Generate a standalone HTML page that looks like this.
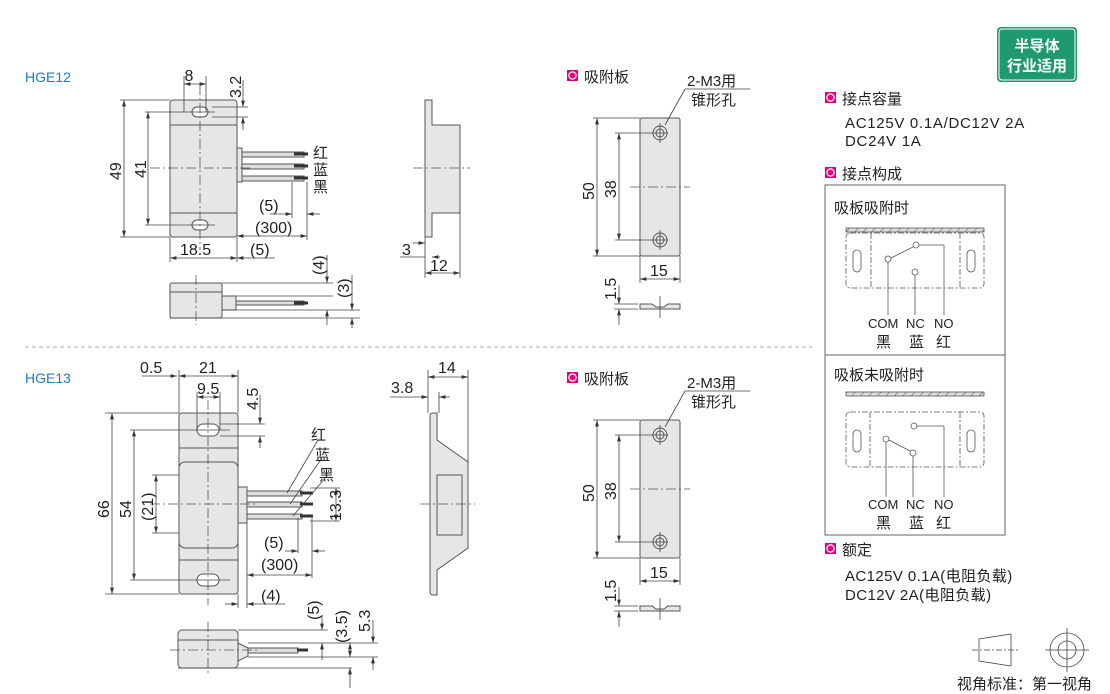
<!DOCTYPE html>
<html><head><meta charset="utf-8"><style>
html,body{margin:0;padding:0;background:#fff;}
svg{display:block;font-family:"Liberation Sans","Noto Sans CJK SC",sans-serif;}
</style></head><body>
<svg width="1110" height="694" viewBox="0 0 1110 694" xmlns="http://www.w3.org/2000/svg">
<defs>
<marker id="a" viewBox="0 0 10 6" refX="10" refY="3" markerWidth="8" markerHeight="5" orient="auto-start-reverse"><path d="M0,0L10,3L0,6z" fill="#333"/></marker>
<pattern id="h" width="6" height="6" patternUnits="userSpaceOnUse" patternTransform="rotate(45)"><rect width="6" height="6" fill="#ddd"/><line x1="0" y1="0" x2="0" y2="6" stroke="#555" stroke-width="1"/></pattern>
</defs>
<g font-size="14" fill="#222">
<text x="25" y="82" fill="#1a7fc1" font-size="14">HGE12</text>
<text x="25" y="383" fill="#1a7fc1" font-size="14">HGE13</text>
<line x1="25" y1="347" x2="812" y2="347" stroke="#aaa" stroke-dasharray="4,3"/>

<g stroke="#555" stroke-width="1" fill="#e6e6e6">
<rect x="170" y="100" width="67" height="137" rx="3"/>
<line x1="170" y1="125" x2="237" y2="125"/><line x1="170" y1="213" x2="237" y2="213"/>
<rect x="192" y="107" width="16" height="10" rx="5" fill="#fff"/>
<rect x="192" y="220" width="16" height="10" rx="5" fill="#fff"/>
<rect x="237" y="148" width="5" height="34"/>
<g fill="#ddd"><rect x="242" y="152" width="62" height="5"/><rect x="242" y="164" width="62" height="5"/><rect x="242" y="176" width="62" height="5"/></g>
<g stroke="#333" stroke-width="3"><line x1="294" y1="154" x2="308" y2="154"/><line x1="294" y1="166" x2="308" y2="166"/><line x1="294" y1="178" x2="308" y2="178"/></g>
<path d="M425,100H432V125H460V213H432V237H425Z"/>
<rect x="170" y="283" width="52" height="35" rx="2"/><line x1="170" y1="292" x2="222" y2="292"/>
<rect x="222" y="296" width="14" height="14"/>
<rect x="236" y="301" width="68" height="4" fill="#ddd"/>
<line x1="294" y1="303" x2="308" y2="303" stroke="#333" stroke-width="3"/>

<rect x="179" y="413" width="59" height="181" rx="3"/>
<line x1="179" y1="448" x2="238" y2="448"/><line x1="179" y1="560" x2="238" y2="560"/>
<rect x="179" y="462" width="59" height="86" rx="6"/>
<rect x="197" y="424" width="22" height="12" rx="6" fill="#fff"/>
<rect x="197" y="574" width="22" height="12" rx="6" fill="#fff"/>
<rect x="238" y="487" width="9" height="36"/>
<g fill="#ddd"><rect x="247" y="491" width="55" height="5"/><rect x="247" y="502" width="55" height="5"/><rect x="247" y="514" width="55" height="5"/></g>
<g stroke="#333" stroke-width="3"><line x1="300" y1="493" x2="313" y2="493"/><line x1="300" y1="504" x2="313" y2="504"/><line x1="300" y1="516" x2="313" y2="516"/></g>
<path d="M430,416Q430,413 433,413H437V440L468,462V548L437,570V595H433Q430,595 430,592Z"/>
<rect x="437" y="475" width="25" height="60"/>
<rect x="178" y="630" width="60" height="38" rx="4"/><line x1="178" y1="640" x2="238" y2="640"/>
<path d="M238,643L248,648V656L238,661Z"/>
<rect x="248" y="648" width="50" height="5" fill="#ddd"/>
<line x1="297" y1="650" x2="308" y2="650" stroke="#333" stroke-width="3"/>

<rect x="640" y="118" width="40" height="138" rx="2"/>
<rect x="640" y="420" width="40" height="138" rx="2"/>
<g fill="none"><circle cx="660" cy="133" r="7"/><circle cx="660" cy="133" r="4"/><circle cx="660" cy="240" r="7"/><circle cx="660" cy="240" r="4"/>
<circle cx="660" cy="435" r="7"/><circle cx="660" cy="435" r="4"/><circle cx="660" cy="542" r="7"/><circle cx="660" cy="542" r="4"/></g>
<path d="M640,304H652L656,307H664L668,304H680V309H640Z"/>
<path d="M640,606H652L656,609H664L668,606H680V611H640Z"/>
</g>

<g stroke="#555" stroke-width="0.8" stroke-dasharray="10,3,2,3" fill="none">
<line x1="200" y1="85" x2="200" y2="250"/><line x1="150" y1="168" x2="250" y2="168"/>
<line x1="413" y1="168" x2="470" y2="168"/>
<line x1="196" y1="275" x2="196" y2="325"/>
<line x1="208" y1="400" x2="208" y2="605"/><line x1="150" y1="504" x2="255" y2="504"/>
<line x1="420" y1="504" x2="475" y2="504"/>
<line x1="170" y1="650" x2="260" y2="650"/><line x1="208" y1="622" x2="208" y2="675"/>
<line x1="630" y1="187" x2="690" y2="187"/><line x1="630" y1="489" x2="690" y2="489"/>
</g>

<g stroke="#444" stroke-width="0.8" fill="none">
<line x1="120" y1="100" x2="170" y2="100"/><line x1="120" y1="237" x2="170" y2="237"/>
<line x1="124" y1="100" x2="124" y2="237" marker-start="url(#a)" marker-end="url(#a)"/>
<line x1="145" y1="112" x2="215" y2="112"/><line x1="145" y1="225" x2="215" y2="225"/>
<line x1="148" y1="112" x2="148" y2="225" marker-start="url(#a)" marker-end="url(#a)"/>
<line x1="184" y1="76" x2="184" y2="112"/><line x1="206" y1="76" x2="206" y2="112"/>
<line x1="184" y1="84" x2="206" y2="84" marker-start="url(#a)" marker-end="url(#a)"/>
<line x1="212" y1="107" x2="248" y2="107"/><line x1="212" y1="117" x2="248" y2="117"/>
<line x1="243" y1="80" x2="243" y2="107" marker-end="url(#a)"/><line x1="243" y1="130" x2="243" y2="117" marker-end="url(#a)"/>
<line x1="170" y1="237" x2="170" y2="262"/><line x1="237" y1="237" x2="237" y2="262"/>
<line x1="170" y1="258" x2="237" y2="258" marker-start="url(#a)" marker-end="url(#a)"/>
<line x1="237" y1="258" x2="275" y2="258" marker-start="url(#a)"/>
<line x1="237" y1="236" x2="307" y2="236" marker-start="url(#a)" marker-end="url(#a)"/>
<line x1="307" y1="182" x2="307" y2="240"/><line x1="292" y1="182" x2="292" y2="218"/>
<line x1="270" y1="214" x2="292" y2="214" marker-end="url(#a)"/><line x1="320" y1="214" x2="307" y2="214" marker-end="url(#a)"/>
<line x1="413" y1="243" x2="425" y2="243" marker-end="url(#a)"/>
<line x1="400" y1="257" x2="425" y2="257"/>
<line x1="425" y1="237" x2="425" y2="278"/><line x1="460" y1="213" x2="460" y2="278"/>
<line x1="425" y1="273" x2="460" y2="273" marker-start="url(#a)" marker-end="url(#a)"/>
<line x1="440" y1="257" x2="432" y2="257" marker-end="url(#a)"/>
<line x1="222" y1="283" x2="333" y2="283"/><line x1="236" y1="296" x2="333" y2="296"/><line x1="222" y1="310" x2="360" y2="310"/><line x1="170" y1="318" x2="360" y2="318"/>
<line x1="327" y1="255" x2="327" y2="283" marker-end="url(#a)"/><line x1="327" y1="325" x2="327" y2="310" marker-end="url(#a)"/>
<line x1="352" y1="275" x2="352" y2="310" marker-end="url(#a)"/><line x1="352" y1="328" x2="352" y2="318" marker-end="url(#a)"/>
<line x1="105" y1="413" x2="179" y2="413"/><line x1="105" y1="594" x2="179" y2="594"/>
<line x1="112" y1="413" x2="112" y2="594" marker-start="url(#a)" marker-end="url(#a)"/>
<line x1="130" y1="430" x2="230" y2="430"/><line x1="130" y1="580" x2="230" y2="580"/>
<line x1="134" y1="430" x2="134" y2="580" marker-start="url(#a)" marker-end="url(#a)"/>
<line x1="152" y1="475" x2="179" y2="475"/><line x1="152" y1="533" x2="179" y2="533"/>
<line x1="156" y1="475" x2="156" y2="533" marker-start="url(#a)" marker-end="url(#a)"/>
<line x1="179" y1="370" x2="179" y2="413"/><line x1="238" y1="370" x2="238" y2="413"/>
<line x1="142" y1="376" x2="177" y2="376" marker-end="url(#a)"/>
<line x1="179" y1="376" x2="238" y2="376" marker-start="url(#a)" marker-end="url(#a)"/>
<line x1="197" y1="392" x2="197" y2="430"/><line x1="220" y1="392" x2="220" y2="430"/>
<line x1="197" y1="397" x2="220" y2="397" marker-start="url(#a)" marker-end="url(#a)"/>
<line x1="220" y1="424" x2="265" y2="424"/><line x1="220" y1="436" x2="265" y2="436"/>
<line x1="260" y1="395" x2="260" y2="424" marker-end="url(#a)"/><line x1="260" y1="448" x2="260" y2="436" marker-end="url(#a)"/>
<line x1="247" y1="523" x2="247" y2="608"/><line x1="238" y1="594" x2="238" y2="608"/>
<line x1="225" y1="604" x2="238" y2="604" marker-end="url(#a)"/><line x1="285" y1="604" x2="247" y2="604" marker-end="url(#a)"/>
<line x1="247" y1="575" x2="312" y2="575" marker-start="url(#a)" marker-end="url(#a)"/>
<line x1="312" y1="518" x2="312" y2="578"/><line x1="298" y1="518" x2="298" y2="553"/>
<line x1="285" y1="551" x2="298" y2="551" marker-end="url(#a)"/><line x1="325" y1="551" x2="312" y2="551" marker-end="url(#a)"/>
<line x1="310" y1="488" x2="340" y2="488"/><line x1="310" y1="521" x2="340" y2="521"/>
<line x1="336" y1="488" x2="336" y2="521" marker-start="url(#a)" marker-end="url(#a)"/>
<line x1="318" y1="440" x2="287" y2="493"/><line x1="322" y1="458" x2="290" y2="504"/><line x1="326" y1="477" x2="293" y2="516"/>
<line x1="428" y1="370" x2="428" y2="413"/><line x1="468" y1="370" x2="468" y2="462"/><line x1="439" y1="392" x2="439" y2="413"/>
<line x1="428" y1="377" x2="468" y2="377" marker-start="url(#a)" marker-end="url(#a)"/>
<line x1="390" y1="397" x2="428" y2="397" marker-end="url(#a)"/><line x1="450" y1="397" x2="439" y2="397" marker-end="url(#a)"/>
<line x1="238" y1="630" x2="328" y2="630"/><line x1="248" y1="643" x2="378" y2="643"/><line x1="248" y1="657" x2="378" y2="657"/><line x1="178" y1="668" x2="352" y2="668"/>
<line x1="322" y1="615" x2="322" y2="630" marker-end="url(#a)"/><line x1="322" y1="660" x2="322" y2="643" marker-end="url(#a)"/>
<line x1="350" y1="643" x2="350" y2="657" marker-start="url(#a)" marker-end="url(#a)"/><line x1="350" y1="668" x2="350" y2="688" marker-start="url(#a)"/>
<line x1="373" y1="620" x2="373" y2="643" marker-end="url(#a)"/><line x1="373" y1="670" x2="373" y2="657" marker-end="url(#a)"/>
<g id="pl">
<line x1="593" y1="118" x2="640" y2="118"/><line x1="593" y1="256" x2="640" y2="256"/>
<line x1="597" y1="118" x2="597" y2="256" marker-start="url(#a)" marker-end="url(#a)"/>
<line x1="615" y1="133" x2="668" y2="133"/><line x1="615" y1="240" x2="668" y2="240"/>
<line x1="619" y1="133" x2="619" y2="240" marker-start="url(#a)" marker-end="url(#a)"/>
<line x1="660" y1="123" x2="660" y2="143"/><line x1="660" y1="230" x2="660" y2="250"/>
<line x1="640" y1="256" x2="640" y2="283"/><line x1="680" y1="256" x2="680" y2="283"/>
<line x1="640" y1="279" x2="680" y2="279" marker-start="url(#a)" marker-end="url(#a)"/>
<line x1="614" y1="304" x2="638" y2="304"/><line x1="614" y1="309" x2="638" y2="309"/>
<line x1="619" y1="285" x2="619" y2="304" marker-end="url(#a)"/><line x1="619" y1="325" x2="619" y2="309" marker-end="url(#a)"/>
<line x1="660" y1="296" x2="660" y2="318"/>
<line x1="665" y1="125" x2="685" y2="89"/><line x1="685" y1="89" x2="750" y2="89"/>
</g>
<use href="#pl" y="302"/>
</g>

<g font-size="16">
<text x="189" y="81" text-anchor="middle">8</text>
<text transform="translate(241,98) rotate(-90)">3.2</text>
<text transform="translate(121,180) rotate(-90)">49</text>
<text transform="translate(146,178) rotate(-90)">41</text>
<text x="180" y="255">18.5</text>
<text x="250" y="255">(5)</text>
<text x="255" y="233">(300)</text>
<text x="259" y="211">(5)</text>
<text x="402" y="255">3</text>
<text x="430" y="271">12</text>
<text transform="translate(324,275) rotate(-90)">(4)</text>
<text transform="translate(349,298) rotate(-90)">(3)</text>
<text x="313" y="158" font-size="15">红</text><text x="313" y="175" font-size="15">蓝</text><text x="313" y="192" font-size="15">黑</text>
<text x="140" y="373">0.5</text>
<text x="199" y="373">21</text>
<text x="197" y="394">9.5</text>
<text transform="translate(258,410) rotate(-90)">4.5</text>
<text transform="translate(109,518) rotate(-90)">66</text>
<text transform="translate(131,518) rotate(-90)">54</text>
<text transform="translate(153,521) rotate(-90)">(21)</text>
<text x="311" y="440" font-size="15">红</text><text x="315" y="460" font-size="15">蓝</text><text x="319" y="480" font-size="15">黑</text>
<text transform="translate(341,521) rotate(-90)">13.3</text>
<text x="264" y="548">(5)</text>
<text x="261" y="570">(300)</text>
<text x="261" y="601">(4)</text>
<text x="391" y="393">3.8</text>
<text x="438" y="373">14</text>
<text transform="translate(319,620) rotate(-90)">(5)</text>
<text transform="translate(347,643) rotate(-90)">(3.5)</text>
<text transform="translate(370,632) rotate(-90)">5.3</text>
<g id="pt">
<rect x="567" y="70" width="11" height="11" fill="#e6007e"/><circle cx="572.5" cy="75.5" r="3.6" fill="none" stroke="#fff" stroke-width="1.2"/>
<text x="584" y="82" font-size="15">吸附板</text>
<text x="687" y="86" font-size="15">2-M3用</text>
<text x="691" y="105" font-size="15">锥形孔</text>
<text transform="translate(594,200) rotate(-90)">50</text>
<text transform="translate(616,198) rotate(-90)">38</text>
<text x="650" y="276">15</text>
<text transform="translate(616,300) rotate(-90)">1.5</text>
</g>
<use href="#pt" y="302"/>
</g>

<rect x="997" y="27" width="80" height="55" rx="4" fill="#1f9a6e"/>
<rect x="999" y="29" width="76" height="51" rx="3" fill="none" stroke="#fff" stroke-width="1"/>
<text x="1037" y="51" font-size="15" font-weight="bold" fill="#fff" text-anchor="middle">半导体</text>
<text x="1037" y="71" font-size="15" font-weight="bold" fill="#fff" text-anchor="middle">行业适用</text>
<g id="ic"><rect x="825" y="92" width="11" height="11" fill="#e6007e"/><circle cx="830.5" cy="97.5" r="3.6" fill="none" stroke="#fff" stroke-width="1.2"/></g>
<text x="842" y="104" font-size="15">接点容量</text>
<text x="845" y="128" font-size="15" letter-spacing="0.7">AC125V 0.1A/DC12V 2A</text>
<text x="845" y="146" font-size="15" letter-spacing="0.7">DC24V 1A</text>
<use href="#ic" y="75"/><text x="842" y="179" font-size="15">接点构成</text>
<rect x="825" y="185" width="180" height="350" fill="none" stroke="#666"/>
<line x1="825" y1="355" x2="1005" y2="355" stroke="#666"/>
<text x="834" y="213" font-size="15">吸板吸附时</text>
<text x="834" y="380" font-size="15">吸板未吸附时</text>
<g stroke="#555" stroke-width="0.8" fill="none">
<rect x="846" y="228" width="138" height="4" fill="url(#h)"/>
<rect x="846" y="392" width="138" height="4" fill="url(#h)"/>
<g stroke-dasharray="6,2,2,2">
<rect x="846" y="233" width="138" height="55" rx="4"/><line x1="871" y1="233" x2="871" y2="288"/><line x1="960" y1="233" x2="960" y2="288"/>
<rect x="846" y="412" width="138" height="55" rx="4"/><line x1="870" y1="412" x2="870" y2="467"/><line x1="960" y1="412" x2="960" y2="467"/>
</g>
<rect x="853" y="250" width="8" height="22" rx="4"/><rect x="967" y="250" width="8" height="22" rx="4"/>
<rect x="853" y="430" width="8" height="22" rx="4"/><rect x="967" y="430" width="8" height="22" rx="4"/>
<circle cx="888" cy="259" r="3" fill="#fff"/><circle cx="916" cy="245" r="3" fill="#fff"/><circle cx="915" cy="272" r="3" fill="#fff"/>
<line x1="891" y1="258" x2="913" y2="247"/><line x1="919" y1="245" x2="944" y2="245"/><line x1="944" y1="245" x2="944" y2="315"/>
<line x1="888" y1="262" x2="888" y2="315"/><line x1="915" y1="275" x2="915" y2="315"/>
<circle cx="886" cy="439" r="3" fill="#fff"/><circle cx="913" cy="453" r="3" fill="#fff"/><circle cx="914" cy="426" r="3" fill="#fff"/>
<line x1="889" y1="440" x2="910" y2="451"/><line x1="917" y1="426" x2="944" y2="426"/><line x1="944" y1="426" x2="944" y2="497"/>
<line x1="886" y1="442" x2="886" y2="497"/><line x1="913" y1="456" x2="913" y2="497"/>
</g>
<g font-size="13"><text x="868" y="328">COM</text><text x="906" y="328">NC</text><text x="934" y="328">NO</text>
<text x="868" y="509">COM</text><text x="906" y="509">NC</text><text x="934" y="509">NO</text></g>
<g font-size="15"><text x="876" y="347">黑</text><text x="909" y="347">蓝</text><text x="936" y="347">红</text>
<text x="876" y="528">黑</text><text x="909" y="528">蓝</text><text x="936" y="528">红</text></g>
<use href="#ic" y="451"/><text x="842" y="555" font-size="15">额定</text>
<text x="845" y="581" font-size="15" letter-spacing="0.4">AC125V  0.1A(电阻负载)</text>
<text x="845" y="600" font-size="15" letter-spacing="0.4">DC12V  2A(电阻负载)</text>
<g stroke="#444" stroke-width="0.8" fill="none">
<path d="M979,639L1011,634V666L979,661Z"/>
<line x1="972" y1="650" x2="1018" y2="650" stroke-dasharray="6,2,2,2"/>
<circle cx="1067" cy="650" r="17"/><circle cx="1067" cy="650" r="9"/>
<line x1="1045" y1="650" x2="1089" y2="650"/><line x1="1067" y1="628" x2="1067" y2="672"/>
</g>
<text x="957" y="689" font-size="15">视角标准：第一视角</text>
</g>
</svg>
</body></html>
